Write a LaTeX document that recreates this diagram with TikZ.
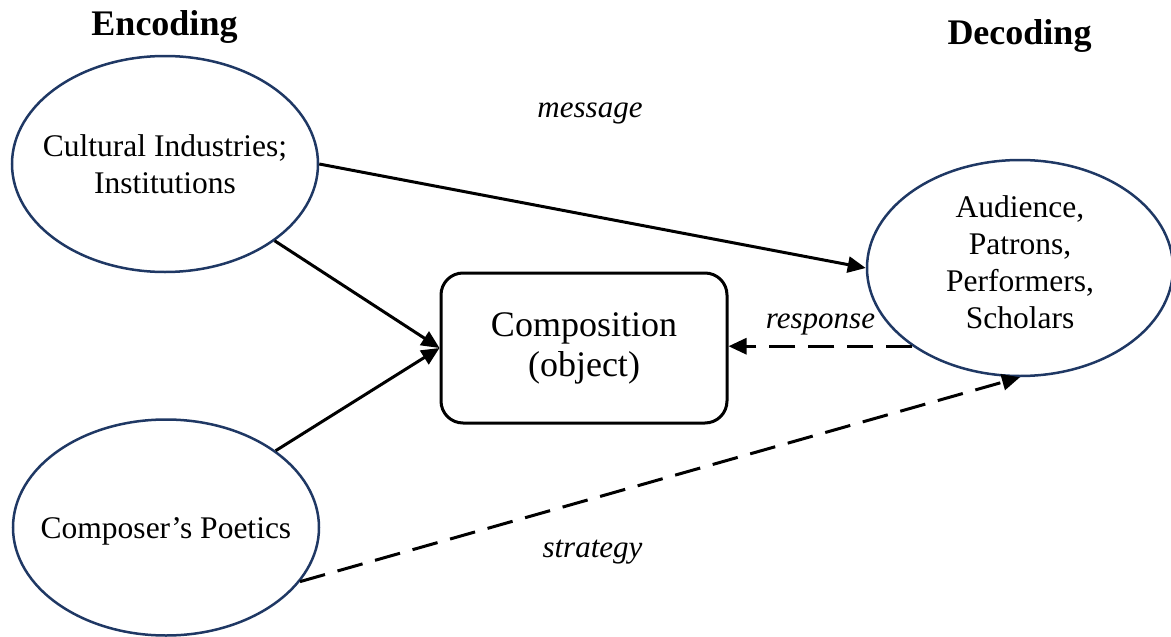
\documentclass[tikz,border=0pt]{standalone}
\usepackage{fontspec}
\setmainfont{Liberation Serif}
\usetikzlibrary{arrows.meta,shapes.geometric}
\definecolor{navy}{HTML}{1F3864}
\begin{document}
\begin{tikzpicture}[x=1pt,y=-1pt,
  oval/.style={ellipse, draw=navy, line width=2.5pt, fill=white,
    minimum width=306pt, minimum height=216pt, inner sep=0pt},
  ovaltext/.style={align=center, font=\fontsize{31.5}{37}\selectfont, inner sep=0pt},
  objbox/.style={draw=black, line width=3pt, rounded corners=22pt,
    minimum width=286pt, minimum height=150pt, inner sep=0pt,
    align=center, font=\fontsize{36}{40}\selectfont},
  heading/.style={font=\fontsize{36}{40}\selectfont\bfseries, anchor=base, inner sep=0pt},
  flowlabel/.style={font=\fontsize{31}{36}\selectfont\itshape, anchor=base, inner sep=0pt},
  flow/.style={line width=3pt, -{Triangle[length=18pt,width=16pt]}},
  backflow/.style={flow, dash pattern=on 26pt off 13pt}
]
\useasboundingbox (0,0) rectangle (1171,637);

% headings
\node[heading] (enc) at (164.5,35) {Encoding};
\node[heading] (dec) at (1019.5,44) {Decoding};

% actors
\node[oval] (ind) at (165,164) {};
\node[ovaltext] (indtxt) at (165,164) {Cultural Industries;\\Institutions};
\node[oval] (poe) at (166,527.5) {};
\node[ovaltext, anchor=base] (poetxt) at (166,538) {Composer’s Poetics};
\node[oval] (aud) at (1020,268) {};
\node[ovaltext] (audtxt) at (1020,262) {Audience,\\Patrons,\\Performers,\\Scholars};

% the work
\node[objbox] (obj) at (584,348) {Composition\\(object)};

% connectors
\draw[flow] (ind.0) -- (aud.180);
\draw[flow] (ind.-35.7) -- (obj.west);
\draw[flow] (poe.35.4) -- (obj.west);
\draw[backflow] (aud.216.4) -- (aud.216.4 -| obj.east);
\draw[backflow] (poe.-22.5) -- (aud.south);

% connector labels
\node[flowlabel] (msg) at (590,117) {message};
\node[flowlabel] (resp) at (820.5,328) {response};
\node[flowlabel] (strat) at (592.5,557) {strategy};
\end{tikzpicture}
\end{document}
